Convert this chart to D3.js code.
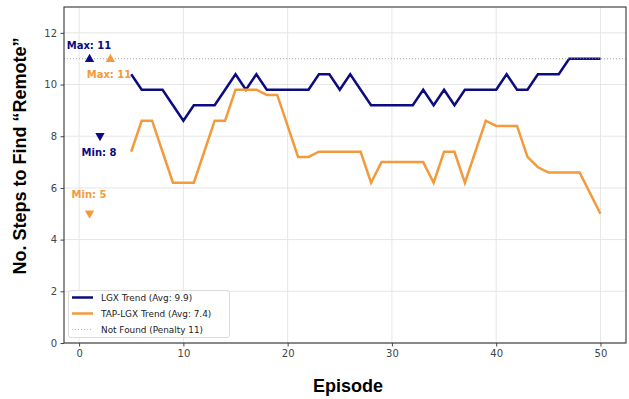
<!DOCTYPE html>
<html><head><meta charset="utf-8">
<script src="https://cdn.jsdelivr.net/npm/d3@7"></script>
<style>body{margin:0;background:#fff}svg{display:block}</style>
</head><body>
<svg id="c" width="629" height="399"></svg>
<script>
const episodes = d3.range(5, 51);
const lgx = [10.4,9.8,9.8,9.8,9.2,8.6,9.2,9.2,9.2,9.8,10.4,9.8,10.4,9.8,9.8,9.8,9.8,9.8,10.4,10.4,9.8,10.4,9.8,9.2,9.2,9.2,9.2,9.2,9.8,9.2,9.8,9.2,9.8,9.8,9.8,9.8,10.4,9.8,9.8,10.4,10.4,10.4,11,11,11,11];
const tap = [7.4,8.6,8.6,7.4,6.2,6.2,6.2,7.4,8.6,8.6,9.8,9.8,9.8,9.6,9.6,8.4,7.2,7.2,7.4,7.4,7.4,7.4,7.4,6.2,7.0,7.0,7.0,7.0,7.0,6.2,7.4,7.4,6.2,7.4,8.6,8.4,8.4,8.4,7.2,6.8,6.6,6.6,6.6,6.6,5.8,5.0];
const xTicks = [0,10,20,30,40,50];
const yTicks = [0,2,4,6,8,10,12];
const penalty = 11;
const seriesNames = ["LGX Trend (Avg: 9.9)", "TAP-LGX Trend (Avg: 7.4)", "Not Found (Penalty 11)"];
const markers = [
  {x:1, y:11, dir:"up", color:"navy", label:"Max: 11", lx:89, ly:49},
  {x:3, y:11, dir:"up", color:"orange", label:"Max: 11", lx:109, ly:78},
  {x:2, y:8, dir:"down", color:"navy", label:"Min: 8", lx:99, ly:156},
  {x:1, y:5, dir:"down", color:"orange", label:"Min: 5", lx:89, ly:198}
];
const NAVY = "#0c0c80", ORANGE = "#f39a3d";
const col = c => c === "navy" ? NAVY : ORANGE;

const svg = d3.select("#c");
const L = 64, R = 626, T = 7, B = 343;
const x = d3.scaleLinear().domain([-1.45, 52.45]).range([L, R]);
const y = d3.scaleLinear().domain([0, 13]).range([B, T]);

// grid
svg.append("g").selectAll("line").data(xTicks).join("line")
  .attr("x1", d => x(d)).attr("x2", d => x(d)).attr("y1", T).attr("y2", B)
  .attr("stroke", "#e6e6e6").attr("stroke-width", 1);
svg.append("g").selectAll("line").data(yTicks).join("line")
  .attr("x1", L).attr("x2", R).attr("y1", d => y(d)).attr("y2", d => y(d))
  .attr("stroke", "#e6e6e6").attr("stroke-width", 1);

// axes
const xa = svg.append("g").attr("transform", `translate(0,${B})`)
  .call(d3.axisBottom(x).tickValues(xTicks).tickSize(3.5).tickPadding(3.5));
const ya = svg.append("g").attr("transform", `translate(${L},0)`)
  .call(d3.axisLeft(y).tickValues(yTicks).tickSize(3.5).tickPadding(3.5));
[xa, ya].forEach(a => {
  a.select(".domain").remove();
  a.selectAll(".tick line").attr("stroke", "#333").attr("stroke-width", 0.9);
  a.selectAll(".tick text").attr("fill", "#444").style("font-family", "DejaVu Sans").style("font-size", "10px");
});

// penalty line
svg.append("line").attr("x1", L).attr("x2", R).attr("y1", y(penalty)).attr("y2", y(penalty))
  .attr("stroke", "#b0b0b0").attr("stroke-width", 1).attr("stroke-dasharray", "1,2");

const line = d3.line().x((d, i) => x(episodes[i])).y(d => y(d));
svg.append("path").datum(lgx).attr("d", line).attr("fill", "none")
  .attr("stroke", NAVY).attr("stroke-width", 2.5).attr("stroke-linejoin", "miter");
svg.append("path").datum(tap).attr("d", line).attr("fill", "none")
  .attr("stroke", ORANGE).attr("stroke-width", 2.5).attr("stroke-linejoin", "miter");
// penalty overlay on top
svg.append("line").attr("x1", L).attr("x2", R).attr("y1", y(penalty)).attr("y2", y(penalty))
  .attr("stroke", "#b0b0b0").attr("stroke-width", 1).attr("stroke-dasharray", "1,2").attr("opacity", 0.6);

// markers
const tri = d3.symbol().type(d3.symbolTriangle).size(38);
svg.append("g").selectAll("path").data(markers).join("path")
  .attr("d", tri)
  .attr("transform", d => `translate(${x(d.x)},${y(d.y) + (d.dir === "up" ? 0.5 : -0.5)}) rotate(${d.dir === "up" ? 0 : 180})`)
  .attr("fill", d => col(d.color));
svg.append("g").selectAll("text").data(markers).join("text")
  .attr("x", d => d.lx).attr("y", d => d.ly).attr("text-anchor", "middle")
  .attr("fill", d => col(d.color))
  .style("font-family", "DejaVu Sans").style("font-weight", "bold").style("font-size", "10px")
  .text(d => d.label);

// frame
svg.append("rect").attr("x", L).attr("y", T).attr("width", R - L).attr("height", B - T)
  .attr("fill", "none").attr("stroke", "#333").attr("stroke-width", 1.1);

// legend
const lg = svg.append("g");
lg.append("rect").attr("x", 68.5).attr("y", 290.5).attr("width", 161).attr("height", 47).attr("rx", 2.5)
  .attr("fill", "#fff").attr("fill-opacity", 0.85).attr("stroke", "#dcdcdc").attr("stroke-width", 1);
const styles = [{c: NAVY, w: 2.5, da: null}, {c: ORANGE, w: 2.5, da: null}, {c: "#bdbdbd", w: 1, da: "1,2"}];
seriesNames.forEach((n, i) => {
  const yy = 297.5 + i * 16;
  lg.append("line").attr("x1", 72).attr("x2", 93).attr("y1", yy).attr("y2", yy)
    .attr("stroke", styles[i].c).attr("stroke-width", styles[i].w).attr("stroke-dasharray", styles[i].da);
  lg.append("text").attr("x", 101).attr("y", yy + 3.3).text(n)
    .attr("fill", "#222").style("font-family", "DejaVu Sans").style("font-size", "8.9px");
});

// axis titles
svg.append("text").attr("x", 348).attr("y", 392).attr("text-anchor", "middle")
  .style("font-family", "Liberation Sans, Arial").style("font-weight", "bold").style("font-size", "18px")
  .text("Episode");
svg.append("text").attr("transform", `translate(26,156) rotate(-90)`).attr("text-anchor", "middle")
  .style("font-family", "Liberation Sans, Arial").style("font-weight", "bold").style("font-size", "18px")
  .text("No. Steps to Find “Remote”");
</script>
</body></html>
